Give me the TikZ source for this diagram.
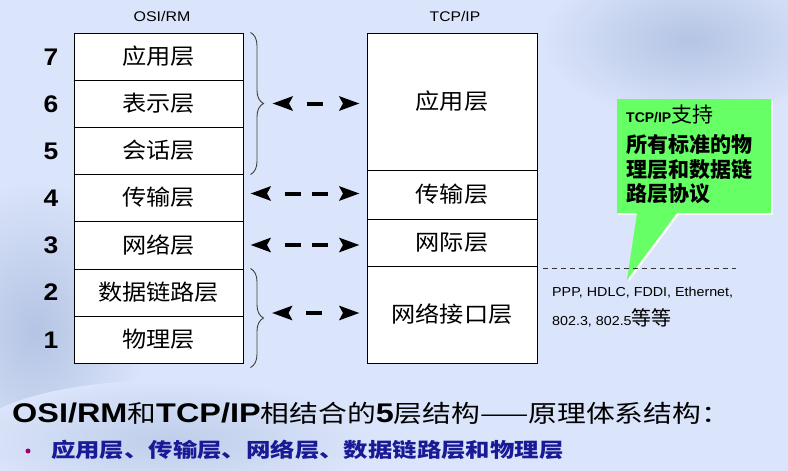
\documentclass[tikz,border=0pt]{standalone}
\usepackage{fontspec}
\usepackage{graphicx}
\setmainfont{Liberation Sans}
\newfontfamily\cjk{Noto Sans CJK SC}
\usetikzlibrary{arrows.meta,decorations.pathreplacing,calc}

\definecolor{bg}{RGB}{218,228,250}
\definecolor{deco}{RGB}{180,196,228}
\definecolor{callout}{RGB}{102,255,102}
\definecolor{navy}{RGB}{26,26,150}
\definecolor{dot}{RGB}{160,0,110}

% horizontal stretch of a piece of text
\newcommand\hx[2]{\scalebox{#1}[1]{#2}}

\tikzset{
  layer/.style={draw=black, line width=1pt, fill=white, inner sep=0pt,
    minimum width=169pt, font=\cjk\fontsize{22}{24}\selectfont},
  tcplayer/.style={layer, minimum width=170pt},
  num/.style={inner sep=0pt, font=\bfseries\fontsize{24}{26}\selectfont},
  head/.style={inner sep=0pt, font=\fontsize{14}{16}\selectfont},
  curly/.style={draw=black!75, line width=0.9pt,
    decorate, decoration={brace, amplitude=13pt, aspect=0.5}},
  dashlink/.style={line width=4pt,
    {Stealth[length=20pt,width=14pt,inset=3.5pt]}-{Stealth[length=20pt,width=14pt,inset=3.5pt]}},
  % one dash between the heads
  shortlink/.style={dashlink, dash pattern=on 0pt off 19pt on 16pt off 60pt},
  % two dashes between the heads
  longlink/.style={dashlink, dash pattern=on 0pt off 19pt on 16pt off 11pt on 16pt off 60pt},
  calltext/.style={inner sep=0pt, anchor=west, font=\cjk\bfseries\fontsize{21}{24}\selectfont},
  proto/.style={inner sep=0pt, anchor=west, font=\fontsize{13}{15}\selectfont},
}

\begin{document}
\begin{tikzpicture}[x=1pt,y=-1pt]
\useasboundingbox (0,0) rectangle (788,471);
\fill[bg] (0,0) rectangle (788,471);
% faint background artwork
\shade[inner color=deco, outer color=bg] (690,40) ellipse (150 and 80);
\shade[inner color=deco, outer color=bg] (35,330) ellipse (110 and 150);
\shade[inner color=deco!70!bg, outer color=bg] (170,440) ellipse (200 and 60);

% column headings
\node[head] (hosi) at (162,16) {\hx{1.14}{OSI/RM}};
\node[head] (htcp) at (455,16) {\hx{1.12}{TCP/IP}};

% OSI/RM reference model, seven layers
\node[layer, minimum height=47pt] (o7) at (158.5,56.5)  {\hx{1.1}{应用层}};
\node[layer, minimum height=47pt] (o6) at (158.5,103.5) {\hx{1.1}{表示层}};
\node[layer, minimum height=47pt] (o5) at (158.5,150.5) {\hx{1.1}{会话层}};
\node[layer, minimum height=47pt] (o4) at (158.5,197.5) {\hx{1.1}{传输层}};
\node[layer, minimum height=48pt] (o3) at (158.5,245)   {\hx{1.1}{网络层}};
\node[layer, minimum height=47pt] (o2) at (158.5,292.5) {\hx{1.1}{数据链路层}};
\node[layer, minimum height=47pt] (o1) at (158.5,339.5) {\hx{1.1}{物理层}};

% layer numbers
\node[num] (n7) at (51,57)  {\hx{1.1}{7}};
\node[num] (n6) at (51,104) {\hx{1.1}{6}};
\node[num] (n5) at (51,151) {\hx{1.1}{5}};
\node[num] (n4) at (51,198) {\hx{1.1}{4}};
\node[num] (n3) at (51,245) {\hx{1.1}{3}};
\node[num] (n2) at (51,292) {\hx{1.1}{2}};
\node[num] (n1) at (51,340) {\hx{1.1}{1}};

% TCP/IP model, four layers
\node[tcplayer, minimum height=137pt] (t4) at (452,101.5) {\hx{1.1}{应用层}};
\node[tcplayer, minimum height=49pt]  (t3) at (452,194.5) {\hx{1.1}{传输层}};
\node[tcplayer, minimum height=47pt]  (t2) at (452,242.5) {\hx{1.1}{网际层}};
\node[tcplayer, minimum height=97pt]  (t1) at (452,314.5) {\hx{1.1}{网络接口层}};

% braces grouping OSI layers
\draw[curly] ([xshift=7pt]o7.north east) -- ([xshift=7pt]o5.south east);
\draw[curly] ([xshift=7pt]o2.north east) -- ([xshift=7pt,yshift=-4pt]o1.south east);
\coordinate (b1) at ([xshift=22pt]$(o7.north east)!0.5!(o5.south east)$);
\coordinate (b2) at (265,313);
\coordinate (m4) at ([xshift=7pt,yshift=4pt]o4.east);
\coordinate (m3) at ([xshift=7pt]o3.east);

% correspondences
\draw[shortlink] ([xshift=7pt]b1) -- ([xshift=-7pt]t4.west |- b1);
\draw[longlink] (m4) -- ([xshift=-7pt]t3.west |- m4);
\draw[longlink] (m3) -- ([xshift=-7pt]t2.west |- m3);
\draw[shortlink] ([xshift=7pt]b2) -- ([xshift=-7pt]t1.west |- b2);

% callout
\fill[white] (618.5,101) -- (772.5,101) -- (772.5,215) -- (678.5,215) -- (628.5,282)
  -- (638.5,215) -- (618.5,215) -- cycle;
\fill[callout] (617,99) -- (771,99) -- (771,213) -- (677,213) -- (627,280)
  -- (637,213) -- (617,213) -- cycle;
\node[calltext] (c0) at (626,115) {{\fontsize{14}{16}\selectfont\rmfamily\bfseries TCP/IP}{\mdseries 支持}};
\node[calltext] (c1) at (626,145) {所有标准的物};
\node[calltext] (c2) at (626,170) {理层和数据链};
\node[calltext] (c3) at (626,194) {路层协议};

% boundary line and link-layer protocols
\coordinate (d0) at (543,268);
\coordinate (d1) at (736,268);
\draw[black!80, line width=0.8pt, dash pattern=on 5pt off 4pt] (d0) -- (d1);
\node[proto] (p1) at (552,293) {\hx{1.1}{PPP, HDLC, FDDI, Ethernet,}};
\node[proto] (p2) at (552,318) {\hx{1.1}{802.3, 802.5}{\cjk\fontsize{20}{22}\selectfont 等等}};

% summary
\node[inner sep=0pt, anchor=west] (title) at (12,413) {\hx{1.2}{%
  {\bfseries\fontsize{27}{30}\selectfont OSI/RM}{\cjk\fontsize{24}{28}\selectfont 和}%
  {\bfseries\fontsize{27}{30}\selectfont TCP/IP}{\cjk\fontsize{24}{28}\selectfont 相结合的}%
  {\bfseries\fontsize{27}{30}\selectfont 5}{\cjk\fontsize{24}{28}\selectfont 层结构——原理体系结构：}}};
\fill[dot] (28,451) circle (2.5);
\node[inner sep=0pt, anchor=west, text=navy, font=\cjk\bfseries\fontsize{20}{22}\selectfont]
  (items) at (51,450) {\hx{1.22}{应用层、传输层、网络层、数据链路层和物理层}};
\end{tikzpicture}
\end{document}
